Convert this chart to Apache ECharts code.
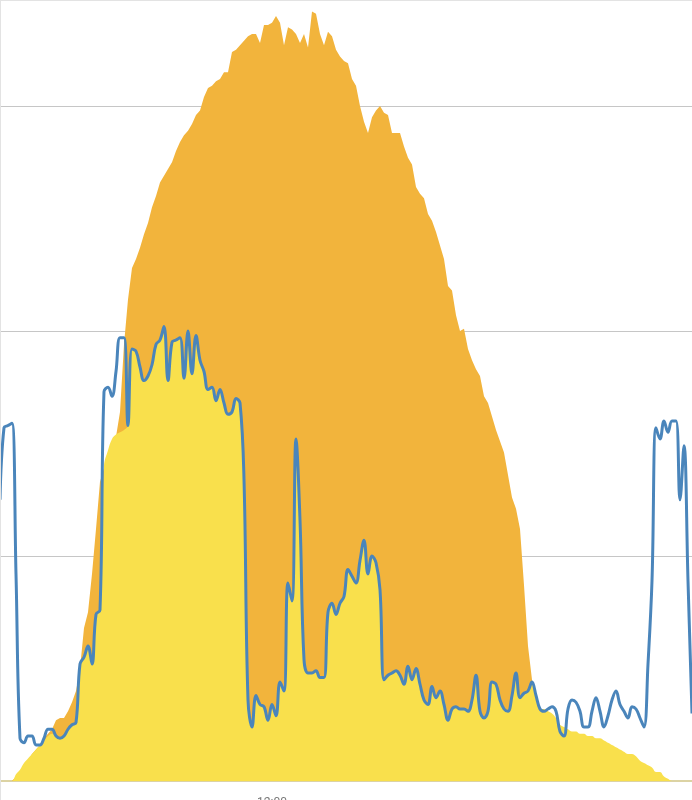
<!DOCTYPE html>
<html>
<head>
<meta charset="utf-8">
<script src="https://cdn.jsdelivr.net/npm/echarts@6/dist/echarts.min.js"></script>
<style>
  html, body { margin: 0; padding: 0; background: #fff; }
  #wrap { position: relative; width: 692px; height: 800px; }
  #chart { width: 692px; height: 800px; }
  #wrap::after {
    content: ''; position: absolute; left: 0; top: 0; right: 0; bottom: 0;
    border-top: 1px solid #e3e3e3; border-left: 1px solid #e3e3e3;
    pointer-events: none;
  }
</style>
</head>
<body>
<div id="wrap"><div id="chart"></div></div>
<script>
// time axis: 5 minute steps starting 06:20
const startMinute = 6 * 60 + 20;
const stepMinutes = 5;
const pointCount = 174;
const shownLabels = ['12:00'];

// consumption (blue line), kW
const consumption = [
  1.25,1.57,1.58,1.59,0.92,0.19,0.17,0.20,0.20,0.16,
  0.16,0.19,0.23,0.23,0.20,0.19,0.20,0.23,0.25,0.26,
  0.52,0.55,0.60,0.52,0.74,0.76,1.73,1.75,1.71,1.82,
  1.97,1.97,1.58,1.92,1.91,1.84,1.78,1.80,1.85,1.94,
  1.96,2.02,1.78,1.95,1.96,1.97,1.79,2.00,1.81,1.98,
  1.87,1.82,1.74,1.75,1.69,1.74,1.68,1.63,1.64,1.70,
  1.68,1.34,0.36,0.24,0.38,0.34,0.33,0.27,0.34,0.29,
  0.44,0.40,0.88,0.80,1.52,1.16,0.54,0.48,0.48,0.49,
  0.46,0.46,0.75,0.79,0.74,0.79,0.82,0.94,0.91,0.88,
  0.98,1.07,0.92,1.00,0.97,0.85,0.45,0.47,0.48,0.49,
  0.47,0.43,0.51,0.45,0.50,0.43,0.36,0.34,0.42,0.37,
  0.40,0.34,0.27,0.32,0.33,0.32,0.32,0.31,0.36,0.47,
  0.31,0.28,0.31,0.44,0.43,0.36,0.32,0.31,0.38,0.48,
  0.37,0.39,0.40,0.44,0.38,0.32,0.31,0.32,0.33,0.31,
  0.22,0.20,0.32,0.36,0.35,0.31,0.24,0.24,0.31,0.37,
  0.31,0.24,0.29,0.36,0.40,0.34,0.31,0.28,0.33,0.32,
  0.28,0.24,0.52,0.89,1.57,1.52,1.60,1.55,1.60,1.60,
  1.25,1.49,0.89,0.30
];

// solar production (orange area), kW
const production = [
  0,0,0,0,0.02,0.04,0.07,0.09,0.12,0.14,
  0.16,0.19,0.21,0.23,0.27,0.28,0.28,0.31,0.35,0.40,
  0.50,0.68,0.75,0.92,1.12,1.33,1.39,1.46,1.51,1.53,
  1.64,1.94,2.14,2.28,2.32,2.37,2.43,2.48,2.55,2.60,
  2.66,2.69,2.72,2.75,2.80,2.84,2.87,2.89,2.92,2.96,
  2.98,3.04,3.08,3.09,3.11,3.12,3.15,3.15,3.24,3.25,
  3.27,3.29,3.31,3.32,3.32,3.28,3.36,3.36,3.37,3.40,
  3.37,3.27,3.35,3.34,3.32,3.28,3.32,3.26,3.42,3.41,
  3.32,3.27,3.33,3.31,3.25,3.22,3.20,3.19,3.12,3.09,
  3.00,2.93,2.88,2.95,2.98,3.00,2.97,2.96,2.88,2.88,
  2.88,2.82,2.77,2.74,2.64,2.61,2.59,2.52,2.49,2.44,
  2.38,2.32,2.20,2.18,2.07,2.00,2.01,1.92,1.87,1.83,
  1.80,1.71,1.68,1.62,1.56,1.51,1.46,1.36,1.26,1.21,
  1.12,0.87,0.60,0.45,0.36,0.31,0.25,0,0,0,
  0,0,0,0,0,0,0,0,0,0,
  0,0,0,0,0,0,0,0,0,0,
  0,0,0,0,0,0,0,0,0,0,
  0,0,0,0
];

// self consumption (yellow area), kW
const selfUse = [
  0,0,0,0,0.03,0.05,0.08,0.10,0.12,0.14,
  0.16,0.18,0.20,0.21,0.20,0.19,0.20,0.23,0.25,0.26,
  0.52,0.55,0.60,0.52,0.74,0.76,1.40,1.47,1.52,1.54,
  1.55,1.56,1.58,1.92,1.91,1.84,1.78,1.80,1.85,1.94,
  1.96,2.02,1.78,1.95,1.96,1.97,1.79,2.00,1.81,1.98,
  1.87,1.82,1.74,1.75,1.69,1.74,1.68,1.63,1.64,1.70,
  1.68,1.34,0.36,0.24,0.38,0.34,0.33,0.27,0.34,0.29,
  0.44,0.40,0.88,0.80,1.52,1.16,0.54,0.48,0.48,0.49,
  0.46,0.46,0.75,0.79,0.74,0.79,0.82,0.94,0.91,0.88,
  0.98,1.07,0.92,1.00,0.97,0.85,0.45,0.47,0.48,0.49,
  0.47,0.43,0.51,0.45,0.50,0.43,0.36,0.34,0.42,0.37,
  0.40,0.34,0.27,0.32,0.33,0.32,0.32,0.31,0.36,0.47,
  0.31,0.28,0.31,0.44,0.43,0.36,0.32,0.31,0.38,0.48,
  0.37,0.39,0.40,0.44,0.38,0.32,0.32,0.31,0.30,0.28,
  0.25,0.24,0.23,0.22,0.22,0.21,0.21,0.20,0.20,0.19,
  0.19,0.18,0.17,0.16,0.15,0.14,0.13,0.12,0.12,0.11,
  0.09,0.08,0.07,0.06,0.04,0.04,0.02,0.01,0,0,
  0,0,0,0
];

const times = [];
for (let i = 0; i < pointCount; i++) {
  const m = startMinute + i * stepMinutes;
  const hh = String(Math.floor(m / 60)).padStart(2, '0');
  const mm = String(m % 60).padStart(2, '0');
  times.push(hh + ':' + mm);
}

const chart = echarts.init(document.getElementById('chart'), null, { renderer: 'canvas' });

const option = {
  animation: false,
  grid: {
    left: 0, right: 0, top: -119, bottom: 19,
    containLabel: false,
    outerBoundsMode: 'none'
  },
  xAxis: {
    type: 'category',
    data: times,
    boundaryGap: false,
    axisTick: { show: false },
    axisLine: { lineStyle: { color: '#dcd3a4', width: 2 } },
    axisLabel: {
      interval: (idx, val) => shownLabels.includes(val),
      color: '#777',
      fontSize: 12,
      margin: 16,
      fontFamily: 'Roboto'
    },
    splitLine: { show: false }
  },
  yAxis: {
    type: 'value',
    min: 0,
    max: 4,
    interval: 1,
    axisLabel: { show: false },
    axisLine: { show: false },
    axisTick: { show: false },
    splitLine: { lineStyle: { color: '#c6c6c6', width: 1 } }
  },
  series: [
    {
      name: 'Produktion',
      type: 'line',
      data: production,
      symbol: 'none',
      lineStyle: { width: 0 },
      itemStyle: { color: '#f2b43c' },
      areaStyle: { color: '#f2b43c', opacity: 1 },
      z: 1
    },
    {
      name: 'Eigenverbrauch',
      type: 'line',
      data: selfUse,
      smooth: 0.4,
      symbol: 'none',
      lineStyle: { width: 0 },
      itemStyle: { color: '#f9e04c' },
      areaStyle: { color: '#f9e04c', opacity: 1 },
      z: 2
    },
    {
      name: 'Verbrauch',
      type: 'line',
      data: consumption,
      smooth: 0.4,
      symbol: 'none',
      lineStyle: { color: '#4a85bb', width: 3 },
      itemStyle: { color: '#4a85bb' },
      z: 3
    }
  ]
};

chart.setOption(option);
</script>
</body>
</html>
